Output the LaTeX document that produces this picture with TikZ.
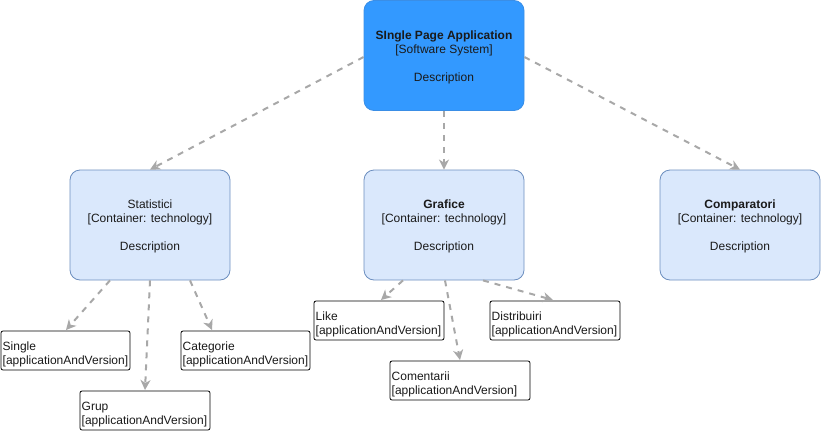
\documentclass[tikz,border=0pt]{standalone}
\usepackage{fontspec}
\setmainfont{Liberation Sans}
\usetikzlibrary{arrows.meta}
\definecolor{spablue}{HTML}{3399FF}
\definecolor{spaborder}{HTML}{3A8EE6}
\definecolor{contfill}{HTML}{DAE8FC}
\definecolor{contborder}{HTML}{6C8EBF}
\definecolor{arrowgray}{HTML}{A8A8A8}
\definecolor{txt}{HTML}{1A1A1A}
\tikzset{
  bigbox/.style={draw=contborder, fill=contfill, rounded corners=10pt, minimum width=160pt, minimum height=110pt, line width=0.8pt, align=center, text=txt, font=\fontsize{12}{14}\selectfont, inner sep=0pt},
  spabox/.style={bigbox, draw=spaborder, fill=spablue},
  smallbox/.style={draw=black, fill=white, rounded corners=2pt, line width=0.8pt, inner sep=0pt},
  smalltxt/.style={anchor=west, align=left, font=\fontsize{12}{13.5}\selectfont, text=txt, inner sep=0pt},
  dep/.style={draw=arrowgray, line width=2pt, dash pattern=on 6pt off 6pt, -{Stealth[length=10pt,width=10pt,inset=3pt]}}
}
\begin{document}
\begin{tikzpicture}[x=1pt,y=-1pt]
\useasboundingbox (0,0) rectangle (821,431);
% big boxes
\node[spabox] (spa) at (444,55.5) {};
\node[text=txt, align=center, font=\fontsize{12}{14}\selectfont, inner sep=0pt] (spatext) at (444,57) {\textbf{SIngle Page Application}\\{[}Software System{]}\\ \\Description};
\node[bigbox] (stat) at (150,225) {};
\node[text=txt, align=center, font=\fontsize{12}{14}\selectfont, inner sep=0pt] (stattext) at (150,226.5) {Statistici\\{[}Container: technology{]}\\ \\Description};
\node[bigbox] (graf) at (444,225) {};
\node[text=txt, align=center, font=\fontsize{12}{14}\selectfont, inner sep=0pt] (graftext) at (444,226.5) {\textbf{Grafice}\\{[}Container: technology{]}\\ \\Description};
\node[bigbox] (comp) at (740,225) {};
\node[text=txt, align=center, font=\fontsize{12}{14}\selectfont, inner sep=0pt] (comptext) at (740,226.5) {\textbf{Comparatori}\\{[}Container: technology{]}\\ \\Description};
% small boxes
\draw[smallbox] (1,331) rectangle (130,370);
\node[smalltxt] (single) at (2.5,354.5) {Single\\{[}applicationAndVersion{]}};
\draw[smallbox] (80,391) rectangle (210,430);
\node[smalltxt] (grup) at (81.5,414.5) {Grup\\{[}applicationAndVersion{]}};
\draw[smallbox] (181,331) rectangle (310,370);
\node[smalltxt] (categ) at (182.5,354.5) {Categorie\\{[}applicationAndVersion{]}};
\draw[smallbox] (314,301) rectangle (444,340);
\node[smalltxt] (like) at (315.5,324.5) {Like\\{[}applicationAndVersion{]}};
\draw[smallbox] (390,361) rectangle (530,400);
\node[smalltxt] (coment) at (391.5,384.5) {Comentarii\\{[}applicationAndVersion{]}};
\draw[smallbox] (490,301) rectangle (620,340);
\node[smalltxt] (distr) at (491.5,324.5) {Distribuiri\\{[}applicationAndVersion{]}};
% anchor coordinates
\coordinate (tSingle) at (66,330);
\coordinate (tGrup) at (145,390);
\coordinate (tCateg) at (212,330);
\coordinate (tLike) at (381,300);
\coordinate (tComent) at (460,360);
\coordinate (tDistr) at (553,300);
% connectors
\draw[dep] (spa.west |- 0,57) -- (stat.north);
\draw[dep] (spa.south) -- (graf.north);
\draw[dep] (spa.east |- 0,57) -- (comp.north);
\draw[dep] ([xshift=-40pt]stat.south) -- (tSingle);
\draw[dep] (stat.south) -- (tGrup);
\draw[dep] ([xshift=40pt]stat.south) -- (tCateg);
\draw[dep] ([xshift=-41pt]graf.south) -- (tLike);
\draw[dep] ([xshift=1pt]graf.south) -- (tComent);
\draw[dep] ([xshift=39pt]graf.south) -- (tDistr);
\end{tikzpicture}
\end{document}
